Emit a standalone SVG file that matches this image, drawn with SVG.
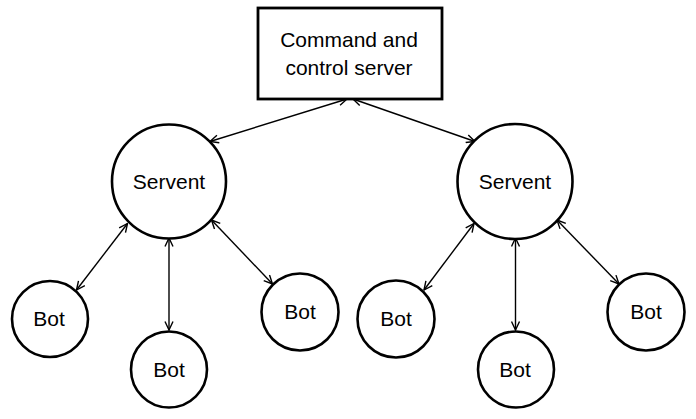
<svg xmlns="http://www.w3.org/2000/svg" width="696" height="419" viewBox="0 0 696 419">
<style>
.node{fill:#fff;stroke:#000;stroke-width:2.6}
.box{fill:#fff;stroke:#000;stroke-width:2.8}
.lbl{font-family:"Liberation Sans",Arial,sans-serif;font-size:21px;fill:#000;text-anchor:middle}
.conn{stroke:#000;stroke-width:1.4;fill:none;marker-start:url(#ah);marker-end:url(#ah)}
</style>
<defs>
<marker id="ah" viewBox="0 0 10 10" refX="9.5" refY="5" markerWidth="10" markerHeight="10" markerUnits="userSpaceOnUse" orient="auto-start-reverse">
<path d="M1,1 L9.5,5 L1,9" fill="none" stroke="#000" stroke-width="1.4"/>
</marker>
</defs>
<rect width="696" height="419" fill="#fff"/>
<g id="connectors">
<line class="conn" x1="347" y1="99" x2="210" y2="141.5"/>
<line class="conn" x1="353" y1="99" x2="475" y2="141.5"/>
<line class="conn" x1="127.5" y1="223.5" x2="76.5" y2="290"/>
<line class="conn" x1="169" y1="238" x2="169" y2="330"/>
<line class="conn" x1="211.5" y1="220" x2="272.5" y2="284"/>
<line class="conn" x1="474" y1="223.5" x2="424" y2="290"/>
<line class="conn" x1="515.5" y1="238" x2="515.5" y2="330"/>
<line class="conn" x1="557" y1="220" x2="619" y2="284"/>
</g>
<g id="cc">
<rect class="box" x="258" y="8" width="184" height="91"/>
<text class="lbl" x="349" y="47">Command and</text>
<text class="lbl" x="349" y="75">control server</text>
</g>
<g id="servent1">
<circle class="node" cx="169" cy="181.5" r="57"/>
<text class="lbl" x="169" y="188.5">Servent</text>
</g>
<g id="servent2">
<circle class="node" cx="515" cy="181.5" r="57.5"/>
<text class="lbl" x="515" y="188.5">Servent</text>
</g>
<g id="bot1">
<circle class="node" cx="50" cy="319" r="38"/>
<text class="lbl" x="49" y="326">Bot</text>
</g>
<g id="bot2">
<circle class="node" cx="169" cy="369.5" r="38"/>
<text class="lbl" x="169" y="376.5">Bot</text>
</g>
<g id="bot3">
<circle class="node" cx="300" cy="312" r="38.5"/>
<text class="lbl" x="300" y="319">Bot</text>
</g>
<g id="bot4">
<circle class="node" cx="396" cy="319" r="38.5"/>
<text class="lbl" x="396" y="326">Bot</text>
</g>
<g id="bot5">
<circle class="node" cx="516" cy="369.5" r="38"/>
<text class="lbl" x="515" y="376.5">Bot</text>
</g>
<g id="bot6">
<circle class="node" cx="646" cy="312" r="38.5"/>
<text class="lbl" x="646" y="319">Bot</text>
</g>
</svg>
